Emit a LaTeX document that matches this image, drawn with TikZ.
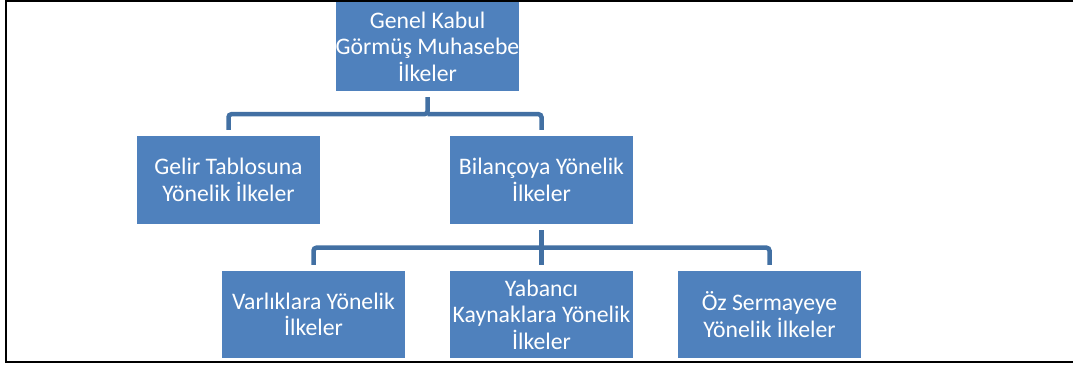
\documentclass[tikz,border=0pt]{standalone}
\usepackage{fontspec}
\newfontfamily\carlito{Carlito}
\usetikzlibrary{calc}
\definecolor{boxblue}{HTML}{4F81BD}
\definecolor{connblue}{RGB}{66,112,163}
\tikzset{
  box/.style={fill=boxblue, text=white, minimum width=183pt, minimum height=88pt,
    inner sep=0pt, align=center, font=\carlito\fontsize{23.7}{26.5}\selectfont},
  conn/.style={draw=connblue, line width=4.5pt, rounded corners=3pt},
  frameline/.style={draw=black, line width=2pt}
}
\begin{document}
\begin{tikzpicture}[x=1pt,y=-1pt]
\useasboundingbox (0,0) rectangle (1073,369);
% frame
\draw[frameline] (1073,1) -- (6,1) -- (6,362) -- (1073,362);
% boxes
\node[box, minimum height=89pt] (top) at (427.5,46.5) {Genel Kabul\\Görmüş Muhasebe\\İlkeler};
\node[box] (gelir) at (228.5,180) {Gelir Tablosuna\\Yönelik İlkeler};
\node[box] (bilanco) at (541.5,180) {Bilançoya Yönelik\\İlkeler};
\node[box, minimum height=87pt] (varlik) at (313.5,314.5) {Varlıklara Yönelik\\İlkeler};
\node[box, minimum height=87pt] (yabanci) at (541.5,314.5) {Yabancı\\Kaynaklara Yönelik\\İlkeler};
\node[box, minimum height=87pt] (oz) at (769.5,314.5) {Öz Sermayeye\\Yönelik İlkeler};
% connectors level 1
\coordinate (bus1) at ($(top.south)+(0,23)$);
\draw[conn] ($(top.south)+(0,6)$) -- (bus1) -| ($(gelir.north)+(0,-6)$);
\draw[conn] (bus1) -| ($(bilanco.north)+(0,-6)$);
% connectors level 2
\coordinate (bus2) at ($(bilanco.south)+(0,23.5)$);
\draw[conn] ($(bilanco.south)+(0,6)$) -- ($(yabanci.north)+(0,-6)$);
\draw[conn] (bus2) -| ($(varlik.north)+(0,-6)$);
\draw[conn] (bus2) -| ($(oz.north)+(0,-6)$);
\end{tikzpicture}
\end{document}
